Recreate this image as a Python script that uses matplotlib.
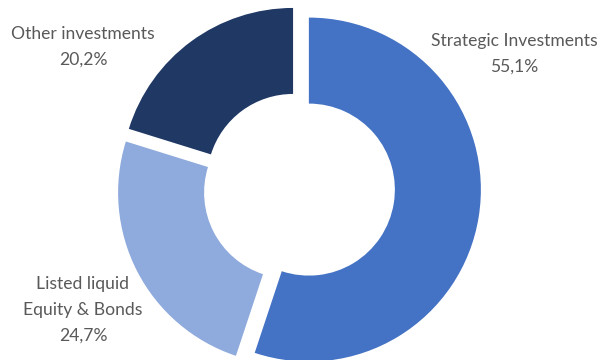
import matplotlib
matplotlib.use('Agg')
import matplotlib.pyplot as plt

# chart data
labels = ['Strategic Investments', 'Listed liquid\nEquity & Bonds', 'Other investments']
shares = [55.1, 24.7, 20.2]
colors = ['#4472C4', '#8FAADC', '#1F3864']

# label placement in pixels (x, y from top)
label_pos = [(514, 54), (83, 310), (83, 47)]

W, H = 606, 360
fig = plt.figure(figsize=(W / 100, H / 100), dpi=100)
ax = fig.add_axes([0, 0, 1, 1])

radius = 172
center = (299, H - 188)
ax.pie(shares, colors=colors, startangle=90, counterclock=False,
       radius=radius, center=center, explode=[10] * 3,
       wedgeprops=dict(width=radius * 0.5, linewidth=0))

for name, val, (x, y) in zip(labels, shares, label_pos):
    txt = name + '\n' + f'{val:.1f}'.replace('.', ',') + '%'
    ax.text(x, H - y, txt, ha='center', va='center', fontsize=12.6,
            color='#595959', family='Lato', linespacing=1.75)

ax.set_xlim(0, W)
ax.set_ylim(0, H)
ax.set_aspect('auto')
ax.axis('off')

fig.savefig('out.png', dpi=100, facecolor='white')
